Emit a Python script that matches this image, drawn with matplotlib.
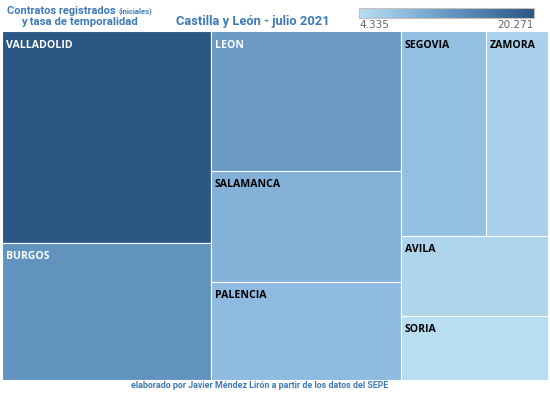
import numpy as np
import matplotlib.pyplot as plt
from matplotlib.colors import LinearSegmentedColormap, Normalize
from matplotlib.patches import Rectangle

# contratos registrados (iniciales), julio 2021 (estimados del gráfico)
provincias = ['VALLADOLID', 'BURGOS', 'LEON', 'SALAMANCA', 'PALENCIA',
              'SEGOVIA', 'ZAMORA', 'AVILA', 'SORIA']
contratos = [20271, 13100, 12170, 9650, 8520, 7970, 5815, 5380, 4335]

# agrupación del treemap: columnas -> filas -> (sub)columnas
grupos = [[0, 1], [2, 3, 4], [[5, 6], 7, 8]]
text_colors = ['white', 'white', 'white', 'black', 'black',
               'black', 'black', 'black', 'black']

cmap = LinearSegmentedColormap.from_list(
    'tab_blue', [(0, '#b9ddf1'), (0.25, '#90bde0'), (0.5, '#6899c4'), (1, '#2a5783')])
norm = Normalize(vmin=min(contratos), vmax=max(contratos))


def total(node):
    if isinstance(node, list):
        return sum(total(n) for n in node)
    return contratos[node]


def layout(node, x, y, w, h, horizontal, out):
    # horizontal: hijos uno al lado del otro; si no, apilados de arriba a abajo
    if not isinstance(node, list):
        out[node] = (x, y, w, h)
        return
    s = total(node)
    pos = 0.0
    for child in node:
        f = total(child) / s
        if horizontal:
            layout(child, x + pos * w, y, f * w, h, not horizontal, out)
        else:
            layout(child, x, y + pos * h, w, f * h, not horizontal, out)
        pos += f


W, H = 546.0, 349.0
rects = {}
layout(grupos, 0, 0, W, H, True, rects)

fig = plt.figure(figsize=(5.5, 3.95), dpi=100)
ax = fig.add_axes([2 / 550, 15 / 395, W / 550, H / 395])
ax.set_xlim(0, W)
ax.set_ylim(H, 0)
ax.axis('off')

for i, name in enumerate(provincias):
    x, y, w, h = rects[i]
    ax.add_patch(Rectangle((x, y), w, h, facecolor=cmap(norm(contratos[i])),
                           edgecolor='white', linewidth=0.8))
    ax.text(x + 4, y + 8.5, name, ha='left', va='top', fontsize=7.6,
            fontweight='bold', family='Open Sans', color=text_colors[i])

blue = '#3f7ab6'


def fy(py):
    return 1 - py / 395


t1 = fig.text(7 / 550, fy(11), 'Contratos registrados', ha='left', va='center',
              fontsize=7.9, fontweight='bold', family='Roboto', color=blue)
renderer = fig.canvas.get_renderer()
x_end = t1.get_window_extent(renderer).x1
fig.text((x_end + 3) / 550, fy(11), '(iniciales)', ha='left', va='center',
         fontsize=5.5, fontweight='bold', family='Roboto', color=blue)
fig.text(79 / 550, fy(22), 'y tasa de temporalidad', ha='center', va='center',
         fontsize=8.2, fontweight='bold', family='Roboto', color=blue)
fig.text(253 / 550, fy(21), 'Castilla y León - julio 2021', ha='center', va='center',
         fontsize=9.3, fontweight='bold', family='Roboto', color=blue)
fig.text(260 / 550, fy(385), 'elaborado por Javier Méndez Lirón a partir de los datos del SEPE',
         ha='center', va='center', fontsize=6.4, fontweight='bold',
         family='Roboto', color=blue)

# barra de color
cax = fig.add_axes([359 / 550, fy(18), 175 / 550, 10 / 395])
grad = np.linspace(0, 1, 256)[None, :]
cax.imshow(grad, aspect='auto', cmap=cmap, extent=[0, 1, 0, 1])
cax.set_xticks([])
cax.set_yticks([])
for sp in cax.spines.values():
    sp.set_color('#c8c0b8')
    sp.set_linewidth(0.8)
fig.text(359 / 550, fy(25), f'{min(contratos):,}'.replace(',', '.'),
         ha='left', va='center', fontsize=7.5, color='#666666', family='DejaVu Sans')
fig.text(534 / 550, fy(25), f'{max(contratos):,}'.replace(',', '.'),
         ha='right', va='center', fontsize=7.5, color='#666666', family='DejaVu Sans')

fig.savefig('out.png', dpi=100)
